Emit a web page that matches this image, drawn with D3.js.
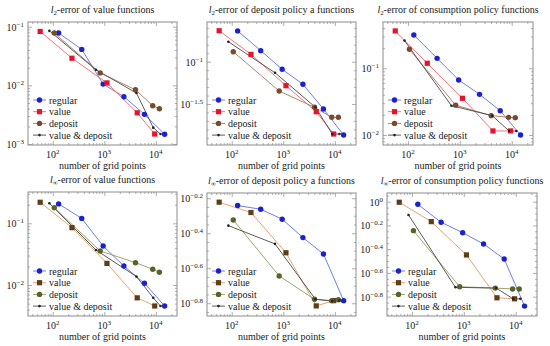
<!DOCTYPE html>
<html><head><meta charset="utf-8">
<script src="https://cdn.jsdelivr.net/npm/d3@7"></script>
<style>
body{margin:0;background:#fff}
svg{display:block}
text{font-family:"Liberation Serif","DejaVu Serif",serif;fill:#1a1a1a}
</style>
</head><body><svg id="c" width="550" height="346"></svg>
<script>
// ---------------- data ----------------
const seriesNames = ["regular", "value", "deposit", "value & deposit"];
const xRegular      = [130, 365, 950, 2400, 6000, 14800];
const xValue        = [57, 236, 1125, 4350, 9500];
const xDeposit      = [107, 832, 4030, 8700, 11700];
const xValueDeposit = [86, 690, 4200, 8900, 12300];
const xTickValues   = [100, 1000, 10000];

const panelTitles = [
  "-error of value functions",
  "-error of deposit policy a functions",
  "-error of consumption policy functions",
  "-error of value functions",
  "-error of deposit policy a functions",
  "-error of consumption policy functions"
];
const panelNorms = ["2", "2", "2", "\u221E", "\u221E", "\u221E"];
const xLabel = "number of grid points";

// l2 value functions
const l2ValRegular  = [0.078, 0.041, 0.0105, 0.0064, 0.0032, 0.00147];
const l2ValValue    = [0.083, 0.029, 0.011, 0.0034, 0.00148];
const l2ValDeposit  = [0.078, 0.0163, 0.0084, 0.0045, 0.0040];
const l2ValBoth     = [0.085, 0.0184, 0.0074, 0.0019, 0.00148];
// l2 deposit policy
const l2DepRegular  = [0.231, 0.135, 0.0813, 0.054, 0.0276, 0.0136];
const l2DepValue    = [0.232, 0.122, 0.052, 0.0256, 0.01396];
const l2DepDeposit  = [0.131, 0.045, 0.0289, 0.022, 0.022];
const l2DepBoth     = [0.172, 0.074, 0.0289, 0.01396, 0.01396];
// l2 consumption policy
const l2ConRegular  = [0.316, 0.141, 0.0668, 0.0407, 0.0231, 0.0100];
const l2ConValue    = [0.363, 0.119, 0.0355, 0.0115, 0.0115];
const l2ConDeposit  = [0.193, 0.028, 0.0195, 0.0184, 0.0182];
const l2ConBoth     = [0.26, 0.0275, 0.0195, 0.0115, 0.0115];
// linf value functions
const liValRegular  = [0.206, 0.12, 0.0428, 0.0203, 0.0107, 0.00457];
const liValValue    = [0.219, 0.085, 0.0224, 0.0062, 0.00457];
const liValDeposit  = [0.179, 0.0356, 0.023, 0.018, 0.0161];
const liValBoth     = [0.211, 0.0369, 0.0137, 0.0062, 0.00457];
// linf deposit policy
const liDepRegular  = [0.573, 0.546, 0.479, 0.376, 0.303, 0.164];
const liDepValue    = [0.599, 0.523, 0.308, 0.153, 0.164];
const liDepDeposit  = [0.474, 0.227, 0.167, 0.164, 0.166];
const liDepBoth     = [0.44, 0.346, 0.167, 0.163, 0.164];
// linf consumption policy
const liConRegular  = [0.95, 0.671, 0.548, 0.44, 0.329, 0.132];
const liConValue    = [0.989, 0.679, 0.356, 0.155, 0.152];
const liConDeposit  = [0.57, 0.192, 0.187, 0.184, 0.184];
const liConBoth     = [0.773, 0.19, 0.187, 0.152, 0.152];

// y tick exponents (labels) per panel
const yTicks1 = [-1, -2, -3];
const yTicks2 = [-1, -1.5];
const yTicks3 = [-1, -2];
const yTicks4 = [-1, -2];
const yTicks5 = [-0.2, -0.4, -0.6, -0.8];
const yTicks6 = [0, -0.2, -0.4, -0.6, -0.8];

// ---------------- layout / style ----------------
const panels = [
  {l:28,  t:22,  w:149, h:123, yd:[-3.017,-0.92], ticks:yTicks1, minor:"decade",
   ys:[l2ValRegular,l2ValValue,l2ValDeposit,l2ValBoth], pal:0},
  {l:207, t:22,  w:149, h:123, yd:[-1.985,-0.531], ticks:yTicks2, minor:0.1,
   ys:[l2DepRegular,l2DepValue,l2DepDeposit,l2DepBoth], pal:0},
  {l:383, t:22,  w:150, h:123, yd:[-2.15,-0.306], ticks:yTicks3, minor:"decade",
   ys:[l2ConRegular,l2ConValue,l2ConDeposit,l2ConBoth], pal:0},
  {l:28,  t:192, w:149, h:124, yd:[-2.502,-0.493], ticks:yTicks4, minor:"decade",
   ys:[liValRegular,liValValue,liValDeposit,liValBoth], pal:1},
  {l:207, t:193, w:149, h:123, yd:[-0.873,-0.17], ticks:yTicks5, minor:0.05,
   ys:[liDepRegular,liDepValue,liDepDeposit,liDepBoth], pal:1},
  {l:387, t:193, w:150, h:123, yd:[-0.963,0.073], ticks:yTicks6, minor:0.05,
   ys:[liConRegular,liConValue,liConDeposit,liConBoth], pal:1}
];
const xsBySeries = [xRegular, xValue, xDeposit, xValueDeposit];
const palettes = [
  [ {line:"#5d6fe4", mark:"#1b22cc", shape:"circle"},
    {line:"#f0646f", mark:"#e5132b", shape:"square"},
    {line:"#a47a5c", mark:"#7a4a2b", shape:"circle"},
    {line:"#4a4a4a", mark:"#222222", shape:"dot"} ],
  [ {line:"#5d6fe4", mark:"#1b22cc", shape:"circle"},
    {line:"#e39a62", mark:"#5e3d17", shape:"square"},
    {line:"#8f9c5c", mark:"#56632b", shape:"circle"},
    {line:"#4a4a4a", mark:"#222222", shape:"dot"} ]
];
const xLogDomain = [1.52, 4.41];
const minus = "\u2212";
function fmtExp(e){ const s = String(Math.abs(e)); return (e<0?minus:"")+s; }

const svg = d3.select("#c");

function drawMarker(g, shape, color, cx, cy){
  if(shape==="square"){
    g.append("rect").attr("x",cx-2.6).attr("y",cy-2.6).attr("width",5.2).attr("height",5.2).attr("fill",color);
  } else if(shape==="circle"){
    g.append("circle").attr("cx",cx).attr("cy",cy).attr("r",2.7).attr("fill",color);
  } else {
    g.append("circle").attr("cx",cx).attr("cy",cy).attr("r",1.3).attr("fill",color);
  }
}

panels.forEach((p, pi) => {
  const g = svg.append("g");
  const x = d3.scaleLog().domain(xLogDomain.map(v=>Math.pow(10,v))).range([p.l, p.l+p.w]);
  const y = d3.scaleLog().domain(p.yd.map(v=>Math.pow(10,v))).range([p.t+p.h, p.t]);
  const tickCol = "#9a9a9a";

  const xMinor = [];
  for(let k=1;k<=4;k++) for(let m=2;m<=9;m++){ const v=m*Math.pow(10,k); if(Math.log10(v)>xLogDomain[0]&&Math.log10(v)<xLogDomain[1]) xMinor.push(v); }
  const yMinor = [];
  if(p.minor==="decade"){
    for(let k=-4;k<=1;k++) for(let m=2;m<=9;m++){ const v=m*Math.pow(10,k); const lv=Math.log10(v); if(lv>p.yd[0]&&lv<p.yd[1]) yMinor.push(v); }
  } else {
    for(let e=Math.ceil(p.yd[0]/p.minor)*p.minor; e<p.yd[1]; e+=p.minor){
      const r = Math.round(e*1000)/1000;
      if(!p.ticks.some(t=>Math.abs(t-r)<1e-6)) yMinor.push(Math.pow(10,r));
    }
  }
  const yMajor = p.ticks.map(e=>Math.pow(10,e));

  const axB = d3.axisBottom(x).tickValues(xTickValues).tickSize(-4).tickFormat(()=>"");
  const axBm = d3.axisBottom(x).tickValues(xMinor).tickSize(-2).tickFormat(()=>"");
  const axT = d3.axisTop(x).tickValues(xTickValues).tickSize(-4).tickFormat(()=>"");
  const axTm = d3.axisTop(x).tickValues(xMinor).tickSize(-2).tickFormat(()=>"");
  const axL = d3.axisLeft(y).tickValues(yMajor).tickSize(-4).tickFormat(()=>"");
  const axLm = d3.axisLeft(y).tickValues(yMinor).tickSize(-2).tickFormat(()=>"");
  const axR = d3.axisRight(y).tickValues(yMajor).tickSize(-4).tickFormat(()=>"");
  const axRm = d3.axisRight(y).tickValues(yMinor).tickSize(-2).tickFormat(()=>"");
  [[axB,`translate(0,${p.t+p.h})`],[axBm,`translate(0,${p.t+p.h})`],
   [axT,`translate(0,${p.t})`],[axTm,`translate(0,${p.t})`],
   [axL,`translate(${p.l},0)`],[axLm,`translate(${p.l},0)`],
   [axR,`translate(${p.l+p.w},0)`],[axRm,`translate(${p.l+p.w},0)`]].forEach(([ax,tr])=>{
    const a = g.append("g").attr("transform",tr).call(ax);
    a.select(".domain").remove();
    a.selectAll("line").attr("stroke",tickCol).attr("stroke-width",0.8);
    a.selectAll("text").remove();
  });

  g.append("rect").attr("x",p.l).attr("y",p.t).attr("width",p.w).attr("height",p.h)
    .attr("fill","none").attr("stroke","#8c8c8c").attr("stroke-width",1);

  xTickValues.forEach(v=>{
    const t = g.append("text").attr("x",x(v)).attr("y",p.t+p.h+13).attr("text-anchor","middle").attr("font-size",10);
    t.append("tspan").text("10");
    t.append("tspan").attr("font-size",7).attr("dy",-4).text(String(Math.round(Math.log10(v))));
  });
  p.ticks.forEach(e=>{
    const t = g.append("text").attr("x",p.l-4).attr("y",y(Math.pow(10,e))+4).attr("text-anchor","end").attr("font-size",10);
    t.append("tspan").text("10");
    t.append("tspan").attr("font-size",7).attr("dy",-4).text(fmtExp(e));
  });

  const tt = g.append("text").attr("x",p.l+p.w/2).attr("y",p.t-9).attr("text-anchor","middle").attr("font-size",10);
  tt.append("tspan").attr("font-style","italic").text("l");
  tt.append("tspan").attr("font-size",6.8).attr("dy",2).text(panelNorms[pi]);
  tt.append("tspan").attr("dy",-2).text(panelTitles[pi]);

  g.append("text").attr("x",p.l+p.w/2).attr("y",p.t+p.h+24).attr("text-anchor","middle").attr("font-size",10).text(xLabel);

  const pal = palettes[p.pal];
  const line = d3.line().x(d=>x(d[0])).y(d=>y(d[1]));
  p.ys.forEach((vals, si)=>{
    const pts = vals.map((v,i)=>[xsBySeries[si][i], v]);
    g.append("path").attr("d",line(pts)).attr("fill","none").attr("stroke",pal[si].line).attr("stroke-width",0.9);
  });
  p.ys.forEach((vals, si)=>{
    vals.forEach((v,i)=> drawMarker(g, pal[si].shape, pal[si].mark, x(xsBySeries[si][i]), y(v)));
  });

  const lx = p.l+5, ly0 = p.t+p.h-45;
  seriesNames.forEach((name, si)=>{
    const yy = ly0 + si*11.7;
    g.append("line").attr("x1",lx).attr("x2",lx+13).attr("y1",yy).attr("y2",yy).attr("stroke",pal[si].line).attr("stroke-width",0.9);
    drawMarker(g, pal[si].shape, pal[si].mark, lx+6.5, yy);
    g.append("text").attr("x",lx+16).attr("y",yy+3.5).attr("font-size",10).text(name);
  });
});
</script>
</body></html>
